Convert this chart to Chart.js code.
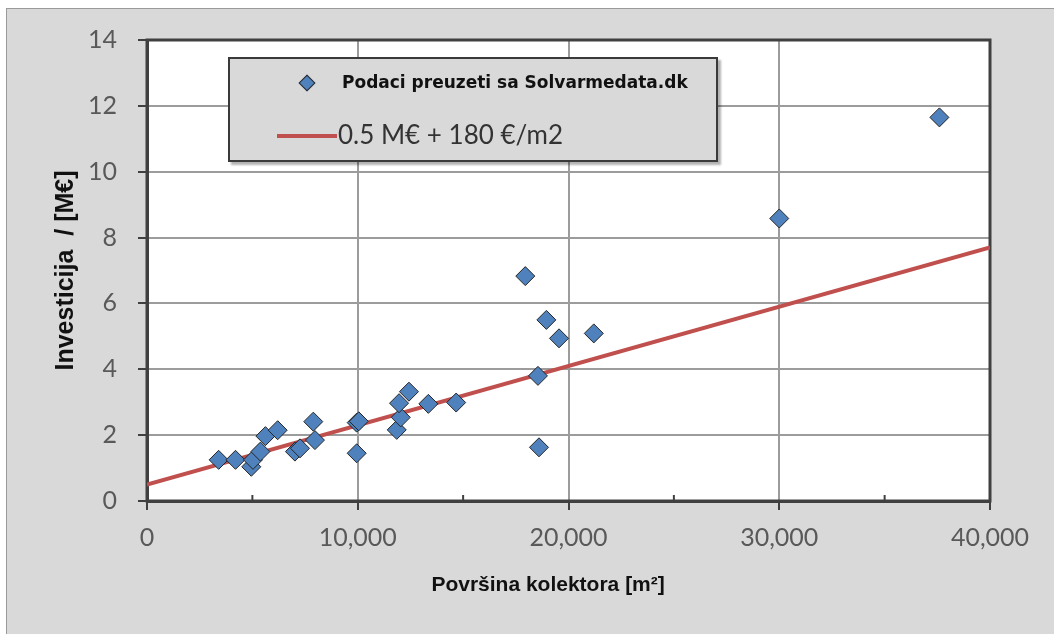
<!DOCTYPE html>
<html>
<head>
<meta charset="utf-8">
<script src="https://cdn.jsdelivr.net/npm/chart.js@4.4.1/dist/chart.umd.min.js"></script>
<style>
    html, body { margin: 0; padding: 0; background: #fff; width: 1054px; height: 634px; overflow: hidden; }
    #panel { position: absolute; left: 6px; top: 8px; width: 1048px; height: 626px; background: #d9d9d9; border-left: 1px solid #9a9a9a; border-top: 1px solid #9a9a9a; }
    #chart { position: absolute; left: 0; top: 0; }
    #legend { position: absolute; left: 228px; top: 57px; width: 486px; height: 101px; background: #d9d9d9; border: 2px solid #3a3a3a; box-shadow: 3px 3px 2px rgba(0,0,0,0.3); }
    #legend .diamond { position: absolute; width: 10px; height: 10px; background: #4f81bd; border: 1px solid #2b2b2b; transform: rotate(45deg); }
    #legend .lineMark { position: absolute; width: 60px; height: 4px; background: #c0504d; }
    #legend .txt1 { position: absolute; font: bold 17px "DejaVu Sans", sans-serif; color: #111; white-space: nowrap; }
    #legend .txt2 { position: absolute; font: 26px Lato, sans-serif; color: #333; white-space: nowrap; }
</style>
</head>
<body>
<div id="panel"></div>
<canvas id="chart" width="1054" height="634"></canvas>
<div id="legend"></div>
<script>
// 散布データ（集熱面積 m2 / 投資額 M€）
const areaM2 = [3400, 4200, 4950, 5030, 5380, 5620, 6200, 7020, 7260, 7890, 7970,
                9950, 10050, 9950, 11850, 12040, 11960, 12430, 13350, 14670,
                17950, 18950, 19550, 21200, 18550, 18600, 30000, 37600];
const investMEUR = [1.25, 1.25, 1.04, 1.25, 1.50, 1.97, 2.15, 1.50, 1.60, 2.41, 1.85,
                    2.38, 2.42, 1.45, 2.16, 2.54, 2.97, 3.32, 2.95, 2.99,
                    6.83, 5.50, 4.94, 5.09, 3.80, 1.63, 8.58, 11.65];

// 回帰線の両端
const fitX = [0, 40000];
const fitY = [0.5, 7.7];

const seriesLabels = ["Podaci preuzeti sa Solvarmedata.dk", "0.5 M€ + 180 €/m2"];
const xTitle = "Površina kolektora [m²]";
const yTitle = "Investicija  / [M€]";

const axisDark = "#404040";
const gridGray = "#9c9c9c";

// プロット領域の白背景・枠線・補助目盛り
const plotFrame = {
    id: "plotFrame",
    beforeDraw(chart) {
        const a = chart.chartArea, c = chart.ctx;
        c.save();
        c.fillStyle = "#fff";
        c.fillRect(a.left, a.top, a.right - a.left, a.bottom - a.top);
        c.restore();
    },
    beforeDatasetsDraw(chart) {
        const a = chart.chartArea, c = chart.ctx;
        const xs = chart.scales.x;
        c.save();
        c.strokeStyle = axisDark;
        c.lineWidth = 3;
        c.strokeRect(a.left, a.top, a.right - a.left, a.bottom - a.top);
        // 主目盛りの中間に小目盛り
        c.lineWidth = 2;
        for (let i = 0; i < xs.ticks.length - 1; i++) {
            const v = (xs.ticks[i].value + xs.ticks[i + 1].value) / 2;
            const px = xs.getPixelForValue(v);
            c.beginPath();
            c.moveTo(px, a.bottom);
            c.lineTo(px, a.bottom - 6);
            c.stroke();
        }
        c.restore();
    }
};

const ctx = document.getElementById("chart").getContext("2d");
const chart = new Chart(ctx, {
    type: "scatter",
    data: {
        datasets: [{
            label: seriesLabels[0],
            data: areaM2.map((x, i) => ({ x: x, y: investMEUR[i] })),
            pointStyle: "rectRot",
            pointRadius: 9.5,
            backgroundColor: "#4f81bd",
            borderColor: "#262626",
            borderWidth: 1,
            order: 1
        }, {
            label: seriesLabels[1],
            type: "line",
            data: fitX.map((x, i) => ({ x: x, y: fitY[i] })),
            borderColor: "#c0504d",
            borderWidth: 4,
            pointRadius: 0,
            fill: false,
            order: 2
        }]
    },
    options: {
        responsive: false,
        animation: false,
        layout: { padding: { left: 0, top: 40, right: 64, bottom: 0 } },
        plugins: {
            legend: { display: false },
            tooltip: { enabled: false }
        },
        scales: {
            x: {
                type: "linear",
                min: 0,
                max: 40000,
                afterFit(scale) { scale.height = 133; },
                ticks: {
                    stepSize: 10000,
                    padding: 13,
                    color: "#595959",
                    font: { family: "Lato", size: 25 },
                    callback: v => v.toLocaleString("en-US")
                },
                grid: { color: gridGray, lineWidth: 2, tickLength: 9, tickColor: axisDark, tickWidth: 2 },
                border: { color: axisDark, width: 3 },
                title: {
                    display: true,
                    text: xTitle + "\u00a0\u00a0\u00a0\u00a0\u00a0\u00a0\u00a0",
                    color: "#111",
                    font: { family: "Liberation Sans", size: 21, weight: "bold" },
                    padding: { top: 0, bottom: 36 }
                }
            },
            y: {
                min: 0,
                max: 14,
                afterFit(scale) { scale.width = 147; },
                ticks: {
                    stepSize: 2,
                    padding: 21,
                    color: "#595959",
                    font: { family: "Lato", size: 25 }
                },
                grid: { color: gridGray, lineWidth: 2, tickLength: 9, tickColor: axisDark, tickWidth: 2 },
                border: { color: axisDark, width: 3 },
                title: {
                    display: true,
                    text: yTitle,
                    color: "#111",
                    font: { family: "Liberation Sans", size: 25, weight: "bold" },
                    padding: { top: 51, bottom: 0 }
                }
            }
        }
    },
    plugins: [plotFrame]
});

// 凡例（HTML で重ねる）
const legend = document.getElementById("legend");
legend.innerHTML =
    '<div class="diamond" style="left:71px; top:18px;"></div>' +
    '<div class="txt1" style="left:112px; top:13px;">' + chart.data.datasets[0].label + '</div>' +
    '<div class="lineMark" style="left:47px; top:75px;"></div>' +
    '<div class="txt2" style="left:108px; top:59px;">' + chart.data.datasets[1].label + '</div>';
</script>
</body>
</html>
